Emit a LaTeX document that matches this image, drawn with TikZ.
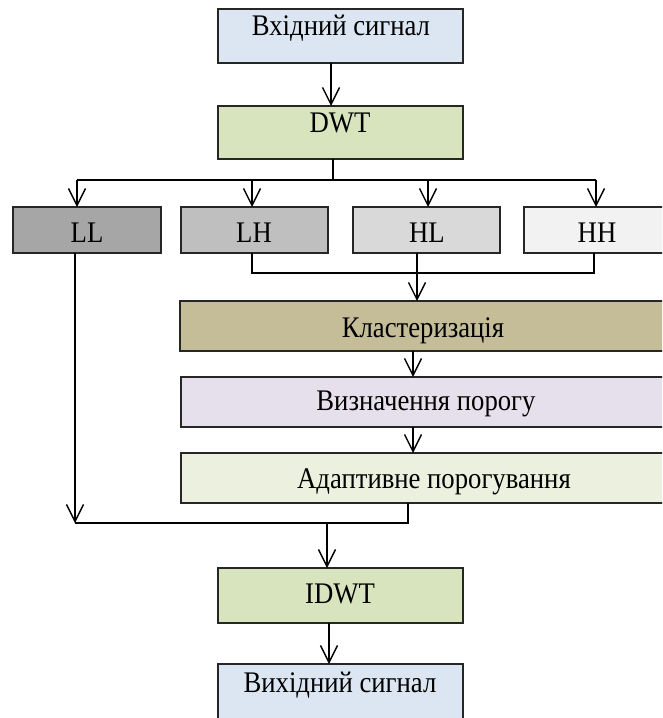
\documentclass[tikz,border=0pt]{standalone}
\usepackage{fontspec}
\setmainfont{Liberation Serif}
\usetikzlibrary{arrows.meta}
\definecolor{cin}{HTML}{DCE6F2}
\definecolor{cdwt}{HTML}{D7E4BD}
\definecolor{cll}{HTML}{A6A6A6}
\definecolor{clh}{HTML}{BFBFBF}
\definecolor{chl}{HTML}{D9D9D9}
\definecolor{chh}{HTML}{F2F2F2}
\definecolor{ckl}{HTML}{C4BD97}
\definecolor{cviz}{HTML}{E6E0EC}
\definecolor{cad}{HTML}{EBF1DE}
\newcommand{\tallt}[1]{\scalebox{1}[1.12]{#1}}
\tikzset{
  boxst/.style={draw=black!85, line width=1.2pt},
  lbl/.style={inner sep=0pt, anchor=base, font=\fontsize{26.7}{31}\selectfont},
  wire/.style={line width=1.4pt, draw=black},
  arr/.style={wire, -{Straight Barb[length=17pt,width=17pt,line width=1.4pt]}}
}
\begin{document}
\begin{tikzpicture}[x=1pt,y=-1pt]
\useasboundingbox (0,0) rectangle (662,718);
\clip (0,0) rectangle (662,718);
% boxes
\path[boxst, fill=cin]  (218,9) rectangle (463,63);
\path[boxst, fill=cdwt] (218,106) rectangle (463,159);
\path[boxst, fill=cll]  (13,207) rectangle (161,253);
\path[boxst, fill=clh]  (181,207) rectangle (328,253);
\path[boxst, fill=chl]  (353,207) rectangle (500,253);
\path[boxst, fill=chh]  (524,207) rectangle (680,253);
\path[boxst, fill=ckl]  (180,301) rectangle (680,351);
\path[boxst, fill=cviz] (181,377) rectangle (680,427);
\path[boxst, fill=cad]  (181,453) rectangle (680,503);
\path[boxst, fill=cdwt] (218,568) rectangle (463,623);
\path[boxst, fill=cin]  (218,664) rectangle (463,740);
% texts
\node[lbl] (tin)  at (341,35)  {\tallt{Вхідний сигнал}};
\node[lbl] (tdwt) at (340,132) {\tallt{DWT}};
\node[lbl] (tll)  at (87,242)  {\tallt{LL}};
\node[lbl] (tlh)  at (254,242) {\tallt{LH}};
\node[lbl] (thl)  at (427,242) {\tallt{HL}};
\node[lbl] (thh)  at (597,242) {\tallt{HH}};
\node[lbl] (tkl)  at (423,337) {\tallt{Кластеризація}};
\node[lbl] (tviz) at (426,410) {\tallt{Визначення порогу}};
\node[lbl] (tad)  at (434,488) {\tallt{Адаптивне порогування}};
\node[lbl] (tidwt) at (340,603) {\tallt{IDWT}};
\node[lbl] (tout) at (340,692) {\tallt{Вихідний сигнал}};
% connector coordinates
\coordinate (c1a) at (331,63);  \coordinate (c1b) at (331,106);
\coordinate (c2a) at (333,159); \coordinate (c2b) at (333,180);
\coordinate (s1) at (77,180);   \coordinate (e1) at (77,207);
\coordinate (s2) at (252,180);  \coordinate (e2) at (252,207);
\coordinate (s3) at (428,180);  \coordinate (e3) at (428,207);
\coordinate (s4) at (596,180);  \coordinate (e4) at (596,207);
\coordinate (m1) at (252,253);  \coordinate (m2) at (417,253); \coordinate (m3) at (594,253);
\coordinate (mj) at (417,273);  \coordinate (mk) at (417,301);
\coordinate (k1) at (413,351);  \coordinate (k2) at (413,377);
\coordinate (v1) at (413,427);  \coordinate (v2) at (413,453);
\coordinate (l1) at (75,253);   \coordinate (l2) at (75,523);
\coordinate (a1) at (408,503);  \coordinate (a2) at (408,523);
\coordinate (j1) at (327,523);  \coordinate (j2) at (327,568);
\coordinate (i1) at (329,623);  \coordinate (i2) at (329,664);
% connectors
\draw[arr] (c1a) -- (c1b);
\draw[wire] (c2a) -- (c2b);
\draw[wire] (s1) -- (s4);
\draw[arr] (s1) -- (e1);
\draw[arr] (s2) -- (e2);
\draw[arr] (s3) -- (e3);
\draw[arr] (s4) -- (e4);
\draw[wire] (m1) |- (mj) -| (m3);
\draw[wire] (m2) -- (mj);
\draw[arr] (mj) -- (mk);
\draw[arr] (k1) -- (k2);
\draw[arr] (v1) -- (v2);
\draw[arr] (l1) -- (l2);
\draw[wire] (a1) -- (a2) -- (l2);
\draw[arr] (j1) -- (j2);
\draw[arr] (i1) -- (i2);
\end{tikzpicture}
\end{document}
